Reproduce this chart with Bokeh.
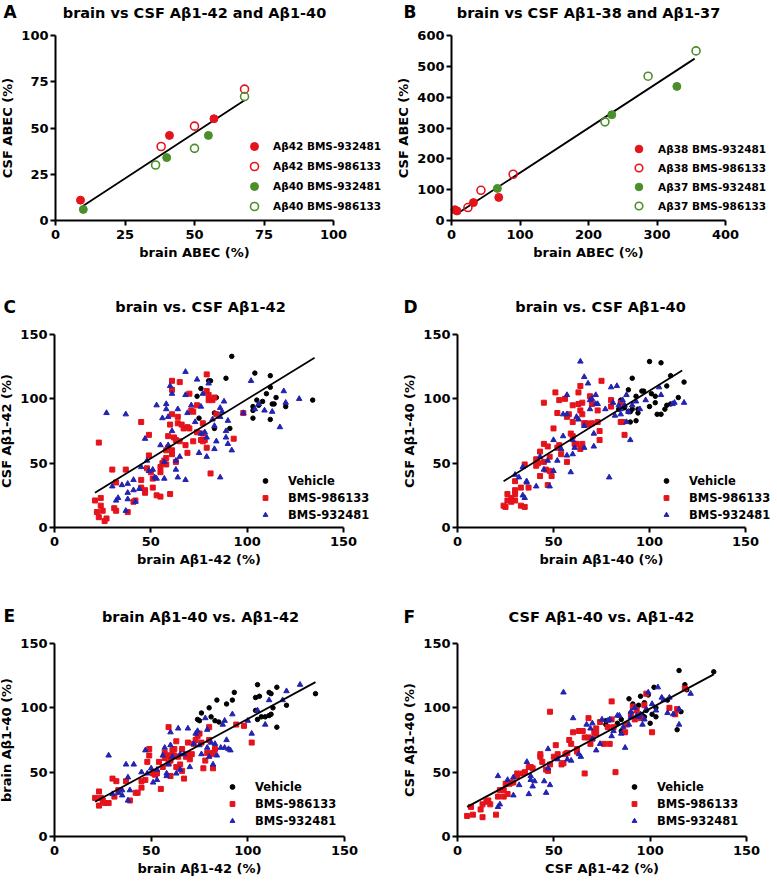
from bokeh.plotting import figure
from bokeh.layouts import gridplot
from bokeh.models import Range1d, FixedTicker, Legend, LegendItem, Label
from bokeh.embed import file_html
from bokeh.resources import INLINE

FONT = "DejaVu Sans"
RED = "#e5131b"
GREEN = "#4a8f2a"
BLUE = "#2323b0"
BLACK = "#000000"

# ---------------- Panel A ----------------
a42_932_x = [9, 41, 57]
a42_932_y = [11, 46, 55]
a42_986_x = [38, 50, 68]
a42_986_y = [40, 51, 71]
a40_932_x = [10, 40, 55]
a40_932_y = [6, 34, 46]
a40_986_x = [36, 50, 68]
a40_986_y = [30, 39, 67]
fitA_x = [10, 68]
fitA_y = [8, 65]

# ---------------- Panel B ----------------
a38_932_x = [5, 8, 32, 69]
a38_932_y = [35, 31, 58, 75]
a38_986_x = [24, 43, 90]
a38_986_y = [42, 98, 150]
a37_932_x = [67, 234, 329]
a37_932_y = [104, 343, 435]
a37_986_x = [224, 287, 357]
a37_986_y = [320, 468, 550]
fitB_x = [7, 355]
fitB_y = [20, 525]

# ---------------- Panel C: brain vs CSF Ab1-42 ----------------
C_veh = [(92,133),(104,120),(112,118),(89,116),(76,108),(80,114),(81,114),(110,104),(112,109),
         (115,101),(105,99),(108,98),(106,95),(103,94),(113,96),(114,96),(120,94),(134,99),
         (103,91),(103,85),(112,84),(91,77),(83,77),(75,85),(83,89),(84,101),(74,102)]
C_986 = [(23,66),(21,21),(22,12),(23,8),(24,23),(24,17),(25,13),(26,5),(27,7),(30,45),(31,15),
         (32,13),(32,35),(37,45),(38,12),(41,20),(42,21),(45,82),(45,37),(45,31),(47,29),(47,27),
         (49,72),(48,46),(49,56),(50,43),(51,38),(51,31),(53,25),(55,24),(55,43),(55,47),(56,50),
         (57,52),(58,49),(58,54),(58,60),(59,71),(59,62),(60,80),(60,26),(61,114),(61,107),(61,88),
         (61,57),(61,60),(62,70),(63,68),(63,51),(64,86),(64,81),(65,113),(65,67),(66,80),(67,77),
         (68,64),(69,58),(69,78),(70,104),(70,77),(72,90),(72,67),(74,74),(76,68),(77,81),(77,73),
         (77,67),(78,68),(79,119),(79,62),(79,106),(80,99),(80,103),(81,42),(82,99),(83,101),
         (84,88),(93,69),(98,89),(74,95),(71,91)]
C_932 = [(27,89),(37,88),(30,32),(32,21),(33,23),(35,33),(37,13),(38,27),(38,22),(38,34),(41,37),
         (41,29),(42,20),(44,30),(45,47),(47,69),(48,52),(49,44),(51,45),(52,39),(53,95),(53,38),
         (55,64),(56,85),(57,51),(57,38),(58,96),(58,92),(59,86),(59,64),(60,110),(61,104),(61,75),
         (63,45),(63,52),(64,92),(64,39),(65,55),(68,121),(68,37),(68,103),(69,89),(71,95),(73,82),
         (74,115),(75,58),(76,94),(76,73),(77,104),(78,74),(79,55),(79,70),(80,112),(82,84),(83,79),
         (83,61),(84,67),(86,86),(86,93),(86,39),(87,90),(88,98),(89,75),(89,70),(90,83),(90,65),
         (92,60),(98,89),(102,114),(104,92),(106,96),(109,91),(113,90),(117,78),(119,106),(120,97),
         (127,100)]
fitC_x = [21, 135]
fitC_y = [27, 132]

# ---------------- Panel D: brain vs CSF Ab1-40 ----------------
D_veh = [(100,129),(106,128),(91,116),(111,118),(118,113),(89,107),(96,106),(97,106),(101,104),
         (103,102),(93,102),(109,110),(100,94),(103,97),(104,88),(106,88),(108,92),(109,95),
         (111,96),(115,101),(85,99),(87,93),(89,90),(90,90),(91,92),(94,92),(93,83),(90,82),
         (94,89),(84,92)]
D_986 = [(24,17),(25,16),(26,26),(26,21),(28,20),(28,23),(30,21),(30,26),(30,36),(30,29),(33,17),
         (33,31),(35,16),(35,49),(37,31),(41,48),(41,53),(42,50),(43,40),(43,59),(45,65),(45,97),
         (45,51),(46,45),(47,33),(47,63),(48,55),(48,44),(49,40),(50,77),(51,105),(52,89),(52,62),
         (53,99),(53,64),(54,57),(56,100),(57,86),(57,51),(58,88),(59,73),(60,82),(60,95),(60,71),
         (61,65),(62,65),(63,105),(63,96),(64,91),(64,61),(64,110),(65,65),(65,97),(65,88),(66,81),
         (67,81),(68,80),(69,102),(70,81),(70,96),(73,91),(73,82),(74,75),(74,68),(75,114),(80,99),
         (80,94),(85,97),(85,82),(86,82),(87,72)]
D_932 = [(30,41),(32,39),(34,47),(34,25),(35,23),(36,36),(36,35),(41,32),(43,55),(45,45),(47,52),
         (48,32),(50,68),(50,44),(52,52),(54,61),(55,71),(55,88),(57,88),(57,103),(57,56),(59,43),
         (60,57),(60,68),(61,62),(62,86),(63,84),(64,129),(66,62),(66,79),(66,117),(68,112),(69,99),
         (69,92),(70,100),(71,63),(71,73),(72,103),(72,96),(73,96),(77,92),(79,39),(80,109),(81,97),
         (82,87),(83,110),(84,95),(85,92),(85,88),(86,99),(87,95),(88,82),(88,103),(89,90),(90,68),
         (91,95),(93,98),(95,92),(98,99),(105,109),(106,103),(112,96),(113,97),(118,97)]
fitD_x = [24, 117]
fitD_y = [36, 122]

# ---------------- Panel E: brain Ab1-40 vs Ab1-42 ----------------
E_veh = [(105,118),(115,116),(93,112),(104,108),(106,109),(112,111),(84,106),(89,103),(80,100),
         (92,106),(135,111),(120,102),(113,100),(76,96),(74,91),(75,90),(81,93),(83,90),(85,89),
         (104,98),(105,91),(107,93),(109,93),(111,94),(112,95),(115,85),(111,112)]
E_986 = [(21,30),(23,35),(24,30),(23,24),(25,28),(26,26),(28,26),(30,45),(32,43),(31,31),(33,36),
         (37,43),(39,28),(42,34),(43,34),(45,38),(45,43),(47,44),(48,58),(49,68),(49,63),(51,49),
         (52,48),(53,49),(54,58),(55,37),(56,54),(57,61),(57,65),(58,63),(59,57),(59,85),(60,63),
         (60,59),(61,67),(60,47),(62,63),(62,68),(63,74),(63,54),(64,62),(65,56),(66,51),(66,68),
         (67,45),(68,62),(69,64),(69,73),(70,60),(71,64),(72,72),(73,75),(74,78),(75,80),(76,73),
         (77,53),(78,59),(79,65),(80,75),(80,85),(81,64),(82,53),(82,65),(83,68),(94,87),(98,86),
         (102,73)]
E_932 = [(28,63),(30,33),(33,34),(35,36),(35,32),(37,56),(38,28),(38,46),(39,36),(41,56),(45,50),
         (47,67),(48,49),(50,53),(51,42),(53,52),(53,44),(56,63),(57,69),(58,47),(58,49),(59,56),
         (60,71),(60,81),(61,62),(63,49),(64,84),(65,64),(65,52),(67,64),(69,84),(70,54),(72,72),
         (73,80),(74,82),(75,71),(76,64),(78,92),(79,69),(79,83),(80,62),(81,73),(82,56),(83,72),
         (84,63),(86,69),(87,87),(88,69),(88,90),(89,75),(90,68),(91,67),(92,95),(100,90),(102,80),
         (105,98),(109,87),(111,106),(120,113),(127,118),(118,106)]
fitE_x = [21, 135]
fitE_y = [27, 120]

# ---------------- Panel F: CSF Ab1-40 vs Ab1-42 ----------------
F_veh = [(115,129),(133,128),(118,118),(102,116),(119,114),(89,107),(99,110),(95,109),(97,104),
         (94,102),(91,103),(103,100),(98,98),(101,95),(100,88),(109,106),(116,97),(114,83),(85,91),
         (83,88),(85,82),(77,90),(77,87),(96,94),(97,93),(103,93)]
F_986 = [(5,16),(7,23),(8,17),(12,21),(13,25),(13,15),(15,27),(16,28),(17,25),(20,17),(21,31),
         (22,36),(24,36),(24,31),(26,33),(25,41),(27,41),(28,42),(29,42),(31,47),(31,49),(34,49),
         (35,50),(37,54),(38,54),(39,53),(43,62),(43,64),(44,58),(46,52),(47,51),(48,56),(48,97),
         (50,62),(51,71),(52,64),(54,56),(55,57),(56,64),(57,65),(58,75),(59,72),(60,81),(62,66),
         (62,68),(63,82),(64,82),(65,82),(66,49),(66,77),(68,92),(68,77),(69,72),(70,76),(71,81),
         (72,80),(72,84),(74,89),(76,72),(79,72),(80,105),(78,85),(80,91),(81,85),(82,50),(87,81),
         (88,87),(90,95),(91,101),(92,91),(93,98),(95,92),(97,102),(98,111),(101,81),(110,100),
         (113,95),(114,99),(118,115)]
F_932 = [(21,47),(21,23),(22,25),(26,44),(29,46),(29,32),(32,40),(36,58),(37,33),(38,44),(38,47),
         (39,39),(40,43),(45,43),(46,34),(47,53),(47,68),(48,40),(52,60),(55,112),(57,60),(59,59),
         (60,92),(63,64),(64,62),(67,87),(69,84),(70,88),(70,76),(72,67),(74,72),(75,91),(78,90),
         (79,91),(80,78),(81,82),(83,94),(84,94),(85,80),(86,85),(87,69),(89,87),(90,97),(90,93),
         (92,100),(93,94),(94,93),(95,95),(96,87),(97,91),(98,99),(99,112),(101,103),(103,98),
         (104,116),(106,108),(107,106),(109,96),(110,108),(112,95),(115,99),(115,87),(121,111)]
fitF_x = [5, 133]
fitF_y = [23, 126]

ticks_A = [0, 25, 50, 75, 100]
ticks_Bx = [0, 100, 200, 300, 400]
ticks_By = [0, 100, 200, 300, 400, 500, 600]
ticks_150 = [0, 50, 100, 150]

# ---------------- layout geometry (canvas px of each figure) ----------------
COL_W = [390, 387]
ROW_H = [262, 308, 315]
ROW_FRAME = [(35, 220), (72, 265), (73, 266)]          # plot-area top / bottom
PANEL_X = {"A": (55, 333), "B": (61, 335), "C": (54, 343),
           "D": (67, 355), "E": (54, 344), "F": (67, 356)}  # plot-area left / right
TITLE_POS = {"A": (194, 12), "B": (198, 12), "C": (200, 44),
             "D": (210, 44), "E": (200, 46), "F": (211, 46)}
LETTER_POS = {"A": (3, 11), "B": (13, 11), "C": (3, 44),
              "D": (13, 44), "E": (3, 45), "F": (13, 46)}


def make_panel(key, row, col, title, xr, yr, xt, yt, xlabel, ylabel):
    W, H = COL_W[col], ROW_H[row]
    fl, fr = PANEL_X[key]
    ft, fb = ROW_FRAME[row]
    kx = (fr - fl) / (xr[1] - xr[0])
    ky = (fb - ft) / (yr[1] - yr[0])
    x_start = xr[0] - fl / kx
    x_end = xr[1] + (W - fr) / kx
    y_start = yr[0] - (H - fb) / ky
    y_end = yr[1] + ft / ky

    def to_data(cx, cy):
        return x_start + cx / kx, y_start + (H - cy) / ky

    p = figure(width=W, height=H, x_range=Range1d(x_start, x_end), y_range=Range1d(y_start, y_end),
               output_backend="svg", toolbar_location=None,
               min_border=0, min_border_left=0, min_border_right=0,
               min_border_top=0, min_border_bottom=0)
    p.outline_line_color = None
    p.xgrid.visible = False
    p.ygrid.visible = False
    p.background_fill_color = "white"
    p.border_fill_color = "white"
    p.xaxis.ticker = FixedTicker(ticks=xt, minor_ticks=[])
    p.yaxis.ticker = FixedTicker(ticks=yt, minor_ticks=[])
    p.xaxis.axis_label = xlabel
    p.yaxis.axis_label = ylabel
    p.xaxis.fixed_location = yr[0]
    p.yaxis.fixed_location = xr[0]
    p.xaxis.bounds = xr
    p.yaxis.bounds = yr
    for ax in (p.xaxis, p.yaxis):
        ax.axis_line_width = 2
        ax.axis_line_color = "black"
        ax.major_tick_line_width = 2
        ax.major_tick_line_color = "black"
        ax.major_tick_out = 5
        ax.major_tick_in = 0
        ax.minor_tick_out = 0
        ax.minor_tick_in = 0
        ax.major_label_text_font = FONT
        ax.major_label_text_font_style = "bold"
        ax.major_label_text_font_size = "13px"
        ax.major_label_text_color = "black"
        ax.axis_label_text_font = FONT
        ax.axis_label_text_font_style = "bold"
        ax.axis_label_text_font_size = "13px"
        ax.axis_label_text_color = "black"
        ax.axis_label_standoff = 3
    p.xaxis.major_label_standoff = 4
    p.yaxis.major_label_standoff = 2

    tx, ty = to_data(*TITLE_POS[key])
    p.add_layout(Label(x=tx, y=ty, text=title, text_font=FONT, text_font_style="bold",
                       text_font_size="14.5px", text_align="center", text_baseline="middle",
                       text_color="black"))
    lx, ly = to_data(*LETTER_POS[key])
    p.add_layout(Label(x=lx, y=ly, text=key, text_font=FONT, text_font_style="bold",
                       text_font_size="17px", text_align="left", text_baseline="middle",
                       text_color="black"))
    return p


def style_legend(lg, gw, gh, standoff, size):
    lg.label_text_font = FONT
    lg.label_text_font_style = "bold"
    lg.label_text_font_size = size
    lg.label_text_color = "black"
    lg.glyph_width = gw
    lg.glyph_height = gh
    lg.label_height = gh
    lg.label_standoff = standoff
    lg.spacing = 0
    lg.padding = 0
    lg.margin = 0
    lg.border_line_color = None
    lg.background_fill_alpha = 0


# ---- A ----
pA = make_panel("A", 0, 0, "brain vs CSF A\u03b21-42 and A\u03b21-40", (0, 100), (0, 100),
                ticks_A, ticks_A, "brain ABEC (%)", "CSF ABEC (%)")
pA.line(fitA_x, fitA_y, line_color="black", line_width=1.8)
rA = [
    pA.scatter(a42_932_x, a42_932_y, marker="circle", size=8, fill_color=RED, line_color=RED),
    pA.scatter(a42_986_x, a42_986_y, marker="circle", size=8, fill_color=None, line_color=RED, line_width=1.6),
    pA.scatter(a40_932_x, a40_932_y, marker="circle", size=8, fill_color=GREEN, line_color=GREEN),
    pA.scatter(a40_986_x, a40_986_y, marker="circle", size=8, fill_color=None, line_color=GREEN, line_width=1.6),
]
labA = ["A\u03b242 BMS-932481", "A\u03b242 BMS-986133", "A\u03b240 BMS-932481", "A\u03b240 BMS-986133"]
lgA = Legend(items=[LegendItem(label=l, renderers=[r]) for l, r in zip(labA, rA)], location=(244, 46))
style_legend(lgA, 20, 20, 9, "10.5px")
pA.add_layout(lgA)

# ---- B ----
pB = make_panel("B", 0, 1, "brain vs CSF A\u03b21-38 and A\u03b21-37", (0, 400), (0, 600),
                ticks_Bx, ticks_By, "brain ABEC (%)", "CSF ABEC (%)")
pB.line(fitB_x, fitB_y, line_color="black", line_width=1.8)
rB = [
    pB.scatter(a38_932_x, a38_932_y, marker="circle", size=8, fill_color=RED, line_color=RED),
    pB.scatter(a38_986_x, a38_986_y, marker="circle", size=8, fill_color=None, line_color=RED, line_width=1.6),
    pB.scatter(a37_932_x, a37_932_y, marker="circle", size=8, fill_color=GREEN, line_color=GREEN),
    pB.scatter(a37_986_x, a37_986_y, marker="circle", size=8, fill_color=None, line_color=GREEN, line_width=1.6),
]
labB = ["A\u03b238 BMS-932481", "A\u03b238 BMS-986133", "A\u03b237 BMS-932481", "A\u03b237 BMS-986133"]
lgB = Legend(items=[LegendItem(label=l, renderers=[r]) for l, r in zip(labB, rB)], location=(239, 47))
style_legend(lgB, 19, 19, 10, "10.5px")
pB.add_layout(lgB)


def scatter_panel(key, row, col, title, xlabel, ylabel, veh, d986, d932, fx, fy, leg_loc):
    p = make_panel(key, row, col, title, (0, 150), (0, 150), ticks_150, ticks_150, xlabel, ylabel)
    r1 = p.scatter([v[0] for v in veh], [v[1] for v in veh], marker="circle", size=4.5,
                   fill_color=BLACK, line_color=BLACK)
    r2 = p.scatter([v[0] for v in d986], [v[1] for v in d986], marker="square", size=5,
                   fill_color=RED, line_color=RED)
    r3 = p.scatter([v[0] for v in d932], [v[1] for v in d932], marker="triangle", size=5.5,
                   fill_color=BLUE, line_color=BLUE)
    p.line(fx, fy, line_color="black", line_width=1.8)
    lg = Legend(items=[LegendItem(label="Vehicle", renderers=[r1]),
                       LegendItem(label="BMS-986133", renderers=[r2]),
                       LegendItem(label="BMS-932481", renderers=[r3])], location=leg_loc)
    style_legend(lg, 12, 17, 17, "11.5px")
    p.add_layout(lg)
    return p


pC = scatter_panel("C", 1, 0, "brain vs. CSF A\u03b21-42", "brain A\u03b21-42 (%)", "CSF A\u03b21-42 (%)",
                   C_veh, C_986, C_932, fitC_x, fitC_y, (259, 47))
pD = scatter_panel("D", 1, 1, "brain vs. CSF A\u03b21-40", "brain A\u03b21-40 (%)", "CSF A\u03b21-40 (%)",
                   D_veh, D_986, D_932, fitD_x, fitD_y, (270, 47))
pE = scatter_panel("E", 2, 0, "brain A\u03b21-40 vs. A\u03b21-42", "brain A\u03b21-42 (%)", "brain A\u03b21-40 (%)",
                   E_veh, E_986, E_932, fitE_x, fitE_y, (226, 56))
pF = scatter_panel("F", 2, 1, "CSF A\u03b21-40 vs. A\u03b21-42", "CSF A\u03b21-42 (%)", "CSF A\u03b21-40 (%)",
                   F_veh, F_986, F_932, fitF_x, fitF_y, (238, 56))

grid = gridplot([[pA, pB], [pC, pD], [pE, pF]], toolbar_location=None)

open("out.html", "w").write(file_html(grid, INLINE))
